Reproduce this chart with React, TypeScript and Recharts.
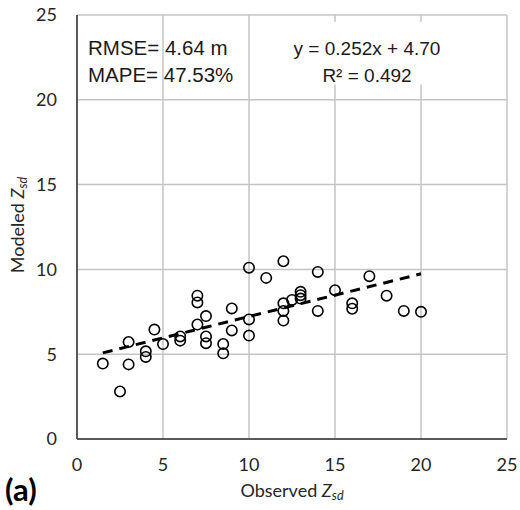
import React from "react"
import { ScatterChart, Scatter, XAxis, YAxis, CartesianGrid, ReferenceLine, ReferenceArea } from "recharts"

// observed vs modeled Zsd (m)
const observed = [
  1.5, 2.5, 3, 3, 4, 4, 4.5, 5, 6, 6, 7, 7, 7, 7.5, 7.5, 7.5, 8.5, 8.5, 9, 9,
  10, 10, 10, 11, 12, 12, 12, 12, 12.5, 13, 13, 13, 14, 14, 15, 16, 16, 17, 18, 19, 20,
]
const modeled = [
  4.45, 2.8, 5.72, 4.4, 5.17, 4.84, 6.45, 5.6, 6.05, 5.8, 8.45, 8.05, 6.75, 7.25, 6.05, 5.65, 5.6, 5.05, 7.7, 6.4,
  10.1, 7.05, 6.1, 9.5, 10.48, 8.0, 7.55, 6.98, 8.2, 8.68, 8.48, 8.28, 9.85, 7.55, 8.77, 8.0, 7.68, 9.6, 8.45, 7.55, 7.5,
]

// trend line ends, y = 0.252x + 4.70
const trendX = [1.5, 20]
const trendY = [5.08, 9.74]

const xTicks = [0, 5, 10, 15, 20, 25]
const yTicks = [0, 5, 10, 15, 20, 25]

const points = observed.map((x, i) => ({ x, y: modeled[i] }))

const tickFont = { fill: "#262626", fontSize: 18, fontFamily: "Lato, sans-serif" }
const statFont: React.CSSProperties = {
  position: "absolute",
  fontFamily: "'Liberation Sans', Arial, sans-serif",
  color: "#1a1a1a",
  whiteSpace: "nowrap",
  lineHeight: 1,
}

const OpenCircle = (props: any) => (
  <circle cx={props.cx} cy={props.cy} r={5.2} fill="none" stroke="#000" strokeWidth={1.6} />
)

const Zsd = () => (
  <span>
    <i>Z</i>
    <i style={{ fontSize: "0.7em", verticalAlign: "-0.25em" }}>sd</i>
  </span>
)

export default function App() {
  return (
    <div style={{ position: "absolute", left: 0, top: 0, width: 520, height: 510, background: "#fff" }}>
      <ScatterChart width={520} height={510} margin={{ top: 15, right: 13, left: 0, bottom: 0 }}>
        <CartesianGrid stroke="#c4c4c4" strokeWidth={1.5} horizontalValues={yTicks} verticalValues={xTicks} />
        <ReferenceArea x1={13} x2={21} y1={20.9} y2={24.6} fill="#fff" fillOpacity={1} stroke="none" />
        <XAxis
          type="number"
          dataKey="x"
          domain={[0, 25]}
          ticks={xTicks}
          height={71}
          tickSize={0}
          tickMargin={19}
          tickLine={false}
          stroke="#595959"
          strokeWidth={2}
          tick={tickFont}
          interval={0}
        />
        <YAxis
          type="number"
          dataKey="y"
          domain={[0, 25]}
          ticks={yTicks}
          width={77}
          tickSize={0}
          tickMargin={20}
          tickLine={false}
          stroke="#595959"
          strokeWidth={2}
          tick={tickFont}
          interval={0}
        />
        <Scatter data={points} shape={<OpenCircle />} isAnimationActive={false} />
        <ReferenceLine
          segment={[
            { x: trendX[0], y: trendY[0] },
            { x: trendX[1], y: trendY[1] },
          ]}
          stroke="#000"
          strokeWidth={3}
          strokeDasharray="10 7"
        />
      </ScatterChart>

      {/* stats */}
      <div style={{ ...statFont, left: 88, top: 38, fontSize: 20.5 }}>RMSE= 4.64 m</div>
      <div style={{ ...statFont, left: 88, top: 65, fontSize: 20.5 }}>MAPE= 47.53%</div>
      <div style={{ ...statFont, left: 367, top: 39, fontSize: 19, transform: "translateX(-50%)" }}>y = 0.252x + 4.70</div>
      <div style={{ ...statFont, left: 367, top: 66, fontSize: 19, transform: "translateX(-50%)" }}>
        R² = 0.492
      </div>

      {/* axis titles */}
      <div
        style={{
          position: "absolute",
          left: 292,
          top: 492,
          transform: "translate(-50%, -50%)",
          fontFamily: "Lato, sans-serif",
          fontSize: 18,
          lineHeight: 1.1,
          color: "#262626",
          whiteSpace: "nowrap",
        }}
      >
        Observed <Zsd />
      </div>
      <div
        style={{
          position: "absolute",
          left: 18,
          top: 225,
          transform: "translate(-50%, -50%) rotate(-90deg)",
          fontFamily: "Lato, sans-serif",
          fontSize: 18,
          color: "#262626",
          whiteSpace: "nowrap",
        }}
      >
        Modeled <Zsd />
      </div>
      <div
        style={{
          position: "absolute",
          left: 5,
          top: 474,
          fontFamily: "Lato, sans-serif",
          fontWeight: 700,
          fontSize: 31,
          lineHeight: 1,
          color: "#000",
        }}
      >
        (a)
      </div>
    </div>
  )
}
